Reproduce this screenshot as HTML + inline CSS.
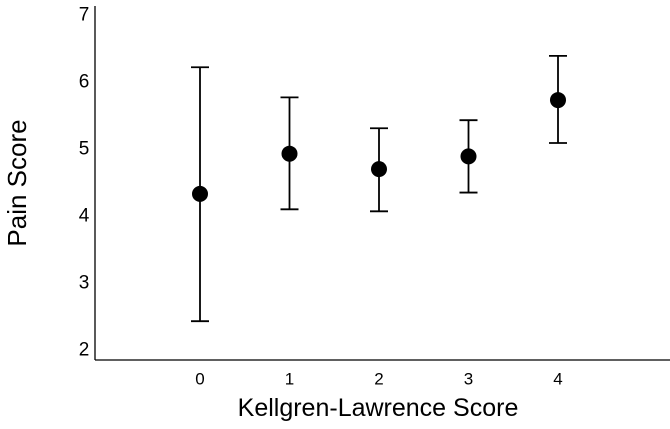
<!DOCTYPE html>
<html><head><meta charset="utf-8"><style>
html,body{margin:0;padding:0;background:#fff;}
svg{display:block;font-family:"Liberation Sans",Arial,sans-serif;}
</style></head><body>
<svg id="chart" width="670" height="429">
<line x1="95" y1="6" x2="95" y2="360" stroke="#000" stroke-width="1.3"/>
<line x1="95" y1="360" x2="670" y2="360" stroke="#000" stroke-width="1.3"/>
<text x="17" y="183" font-size="26" text-anchor="middle" dominant-baseline="central" transform="rotate(-90 17 183)">Pain Score</text>
<text x="378" y="408" font-size="25" text-anchor="middle" dominant-baseline="central">Kellgren-Lawrence Score</text>
<g id="plot"></g>
</svg>
<script>
const categories = ["0","1","2","3","4"];
const means = [4.33, 4.93, 4.70, 4.89, 5.73];
const upper = [6.22, 5.77, 5.31, 5.43, 6.39];
const lower = [2.43, 4.10, 4.07, 4.35, 5.09];
const yTicks = [2, 3, 4, 5, 6, 7];

function xs(i){ return 200 + 89.5*i; }
function ys(v){ return 350 - (v-2)*67; }
const NS="http://www.w3.org/2000/svg";
const g=document.getElementById('plot');
function mk(tag, attrs){ const e=document.createElementNS(NS,tag); for(const k in attrs) e.setAttribute(k,attrs[k]); g.appendChild(e); return e; }

yTicks.forEach(t=>{
  const e=mk('text',{x:84,y:ys(t),'font-size':19,'text-anchor':'middle','dominant-baseline':'central'});
  e.textContent=t;
  
  
});
categories.forEach((c,i)=>{
  const e=mk('text',{x:xs(i),y:379,'font-size':17,'text-anchor':'middle','dominant-baseline':'central'});
  e.textContent=c;
  
  
  const x=xs(i);
  const v=mk('line',{x1:x,x2:x,y1:ys(upper[i]),y2:ys(lower[i]),stroke:'#000','stroke-width':1.8});
  
  
  const c1=mk('line',{x1:x-9,x2:x+9,y1:ys(upper[i]),y2:ys(upper[i]),stroke:'#000','stroke-width':1.8});
  
  
  const c2=mk('line',{x1:x-9,x2:x+9,y1:ys(lower[i]),y2:ys(lower[i]),stroke:'#000','stroke-width':1.8});
  
  
  const p=mk('circle',{cx:x,cy:ys(means[i]),r:8,fill:'#000'});
  
  
});
</script>
</body></html>
